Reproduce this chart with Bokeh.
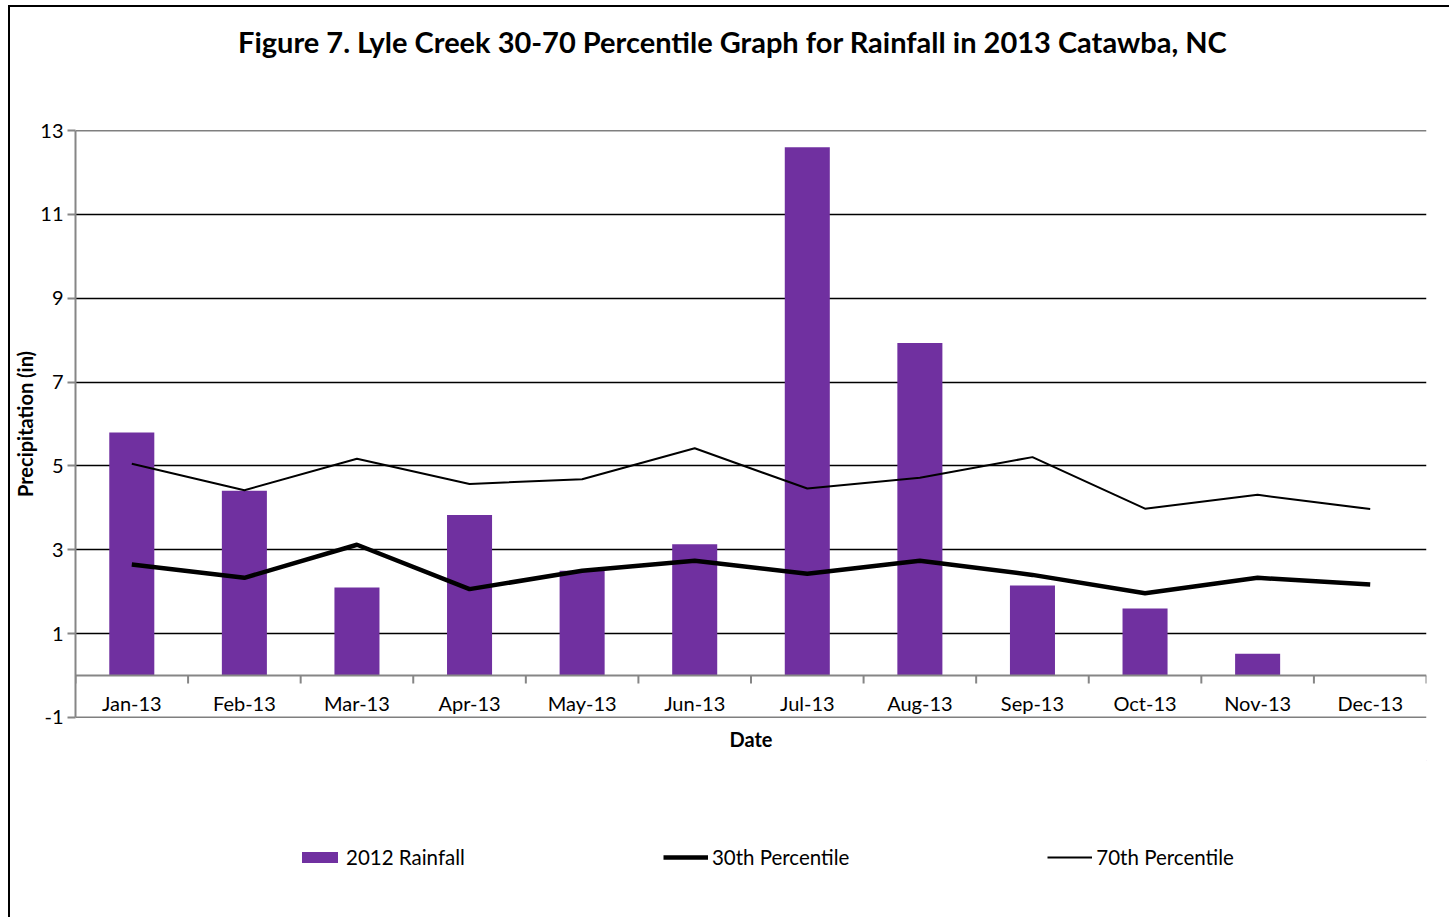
from bokeh.plotting import figure
from bokeh.layouts import column
from bokeh.models import (Range1d, FixedTicker, LinearAxis, Span, Legend, LegendItem,
                          ColumnDataSource)
from bokeh.core.properties import value
from bokeh.embed import file_html
from bokeh.resources import INLINE

# ---- data ----
months = ["Jan-13", "Feb-13", "Mar-13", "Apr-13", "May-13", "Jun-13",
          "Jul-13", "Aug-13", "Sep-13", "Oct-13", "Nov-13", "Dec-13"]
rainfall_2012 = [5.80, 4.41, 2.10, 3.83, 2.50, 3.13, 12.60, 7.93, 2.15, 1.60, 0.52, 0.00]
pct30 = [2.65, 2.33, 3.12, 2.06, 2.50, 2.74, 2.43, 2.74, 2.40, 1.96, 2.33, 2.17]
pct70 = [5.05, 4.42, 5.17, 4.57, 4.68, 5.42, 4.46, 4.72, 5.21, 3.98, 4.31, 3.97]
y_ticks = [-1, 1, 3, 5, 7, 9, 11, 13]
series_names = ["2012 Rainfall", "30th Percentile", "70th Percentile"]
title_text = "Figure 7. Lyle Creek 30-70 Percentile Graph for Rainfall in 2013 Catawba, NC"

FONT = "Lato"
FS = "20px"
BAR_COLOR = "#7030A0"
centers = [i + 0.5 for i in range(len(months))]
bounds = list(range(len(months) + 1))

src = ColumnDataSource(dict(x=centers, m=months, rain=rainfall_2012, p30=pct30, p70=pct70,
                            zero=[0] * len(months)))

# page offset of the outer chart frame (border drawn via CSS on the layout)
OFF_X, OFF_Y = 10, 7
W = 1449 - OFF_X
HT = 115 - OFF_Y          # title strip
HP = 760 - 115            # main plot
HL = 917 - 760            # legend strip

# ---- title strip ----
t = figure(width=W, height=HT, output_backend="svg", toolbar_location=None,
           x_range=Range1d(0, W), y_range=Range1d(0, HT), min_border=0,
           outline_line_color=None, background_fill_color="white", border_fill_color="white")
t.axis.visible = False
t.grid.visible = False
t.text(x=[733 - OFF_X - 23], y=[HT - (41 - OFF_Y)], text=[title_text],
       text_align="center", text_baseline="middle", text_font=value(FONT),
       text_font_size="29px", text_font_style="bold", text_color="black")

# ---- main plot ----
p = figure(width=W, height=HP, output_backend="svg", toolbar_location=None,
           x_range=Range1d(0, len(months)), y_range=Range1d(-1.002, 13.002),
           min_border_left=75 - OFF_X, min_border_right=23, min_border_top=15,
           min_border_bottom=760 - 717,
           background_fill_color="white", border_fill_color="white", outline_line_color=None)

p.xaxis.visible = False
p.yaxis.ticker = FixedTicker(ticks=y_ticks)
p.yaxis.major_label_overrides = {-1: "-1"}
p.yaxis.axis_line_color = "#868686"
p.yaxis.axis_line_width = 2
p.yaxis.major_tick_line_color = "#868686"
p.yaxis.major_tick_line_width = 2
p.yaxis.major_tick_out = 8
p.yaxis.major_tick_in = 0
p.yaxis.minor_tick_line_color = None
p.yaxis.major_label_text_font = FONT
p.yaxis.major_label_text_font_size = FS
p.yaxis.major_label_text_color = "black"
p.yaxis.major_label_standoff = 4
p.yaxis.axis_label = "Precipitation (in)"
p.yaxis.axis_label_text_font = FONT
p.yaxis.axis_label_text_font_size = FS
p.yaxis.axis_label_text_font_style = "bold"
p.yaxis.axis_label_text_color = "black"
p.yaxis.axis_label_standoff = 0

xa = LinearAxis(ticker=FixedTicker(ticks=[]), axis_line_color=None,
                major_tick_line_color=None, minor_tick_line_color=None,
                axis_label="Date", axis_label_text_font=FONT,
                axis_label_text_font_size=FS, axis_label_text_font_style="bold",
                axis_label_text_color="black", axis_label_standoff=9)
p.add_layout(xa, "below")

p.xgrid.grid_line_color = None
p.ygrid.ticker = FixedTicker(ticks=y_ticks)
p.ygrid.grid_line_color = "black"
p.ygrid.grid_line_width = 1.5

p.vbar(x="x", top="rain", bottom=0, width=0.4, source=src,
       fill_color=BAR_COLOR, line_color=None)

# category axis at zero
p.add_layout(Span(location=0, dimension="width", line_color="#868686", line_width=2))
p.ray(x=bounds, y=[0] * len(bounds), length=8, length_units="screen",
      angle=-1.5707963, line_color="#868686", line_width=2)
p.text(x="x", y="zero", text="m", source=src, text_align="center", text_baseline="middle",
       y_offset=28, text_font=value(FONT), text_font_size=FS, text_color="black")

p.line(x="x", y="p70", source=src, line_color="black", line_width=2)
p.line(x="x", y="p30", source=src, line_color="black", line_width=4.5)

# ---- legend strip ----
q = figure(width=W, height=HL, output_backend="svg", toolbar_location=None,
           x_range=Range1d(0, 1), y_range=Range1d(0, 1),
           min_border=0, outline_line_color=None,
           background_fill_color="white", border_fill_color="white")
q.axis.visible = False
q.grid.visible = False
# legend-only renderers: their single point lies outside the strip's ranges
dummy = ColumnDataSource(dict(x=[5.0], y=[5.0]))
rb = q.vbar(x="x", top="y", bottom=4.0, width=0.1, source=dummy,
            fill_color=BAR_COLOR, line_color=None)
r30 = q.line(x="x", y="y", source=dummy, line_color="black", line_width=4.5)
r70 = q.line(x="x", y="y", source=dummy, line_color="black", line_width=2)

legend = Legend(items=[LegendItem(label=series_names[0], renderers=[rb]),
                       LegendItem(label=series_names[1], renderers=[r30]),
                       LegendItem(label=series_names[2], renderers=[r70])],
                orientation="horizontal", location=(222, 48),
                padding=0, spacing=198, margin=0, label_standoff=4,
                glyph_width=45, glyph_height=14,
                border_line_color=None, background_fill_alpha=0,
                label_text_font=FONT, label_text_font_size="20.5px", label_text_color="black")
q.add_layout(legend, "center")

layout = column(t, p, q, spacing=0,
                styles={"margin-left": "8px", "margin-top": "5px",
                        "border-left": "2px solid black", "border-top": "2px solid black"})

open("out.html", "w").write(file_html(layout, INLINE))
